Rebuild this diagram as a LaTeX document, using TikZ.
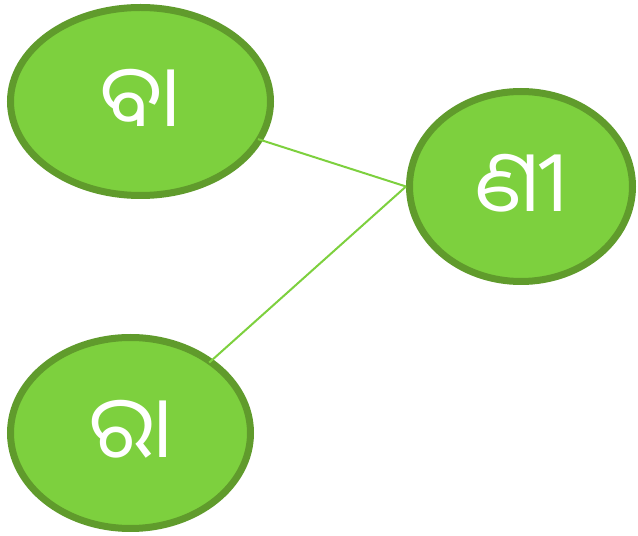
\documentclass[tikz,border=0pt]{standalone}
\usepackage{fontspec}
\usepackage{tikz}
\usetikzlibrary{shapes.geometric,arrows}
\newfontfamily\oriyafont[Script=Oriya]{Noto Sans Oriya UI}
\definecolor{leafgreen}{RGB}{125,208,62}
\definecolor{darkleaf}{RGB}{96,155,44}
\tikzstyle{syllable} = [ellipse, draw=darkleaf, fill=leafgreen, line width=7pt,
    inner sep=0pt, text=white, font=\oriyafont\fontsize{86}{90}\selectfont]
\tikzstyle{line} = [draw, line width=2pt, color=leafgreen, shorten <=-5pt]

\begin{document}
\begin{tikzpicture}[x=1pt, y=1pt]
    \useasboundingbox (0,0) rectangle (638,536);
    % Place nodes
    \node [syllable, minimum width=260pt, minimum height=188pt] (ba) at (140.5,434.5) {ବା};
    \node [syllable, minimum width=223pt, minimum height=190pt] (nni) at (521,349.5) {ଣୀ};
    \node [syllable, minimum width=240pt, minimum height=191pt] (ra) at (130.5,103) {ରା};

    % Draw edges
    \path [line] (ba) -- (nni.west);
    \path [line] (ra) -- (nni.west);
\end{tikzpicture}
\end{document}
